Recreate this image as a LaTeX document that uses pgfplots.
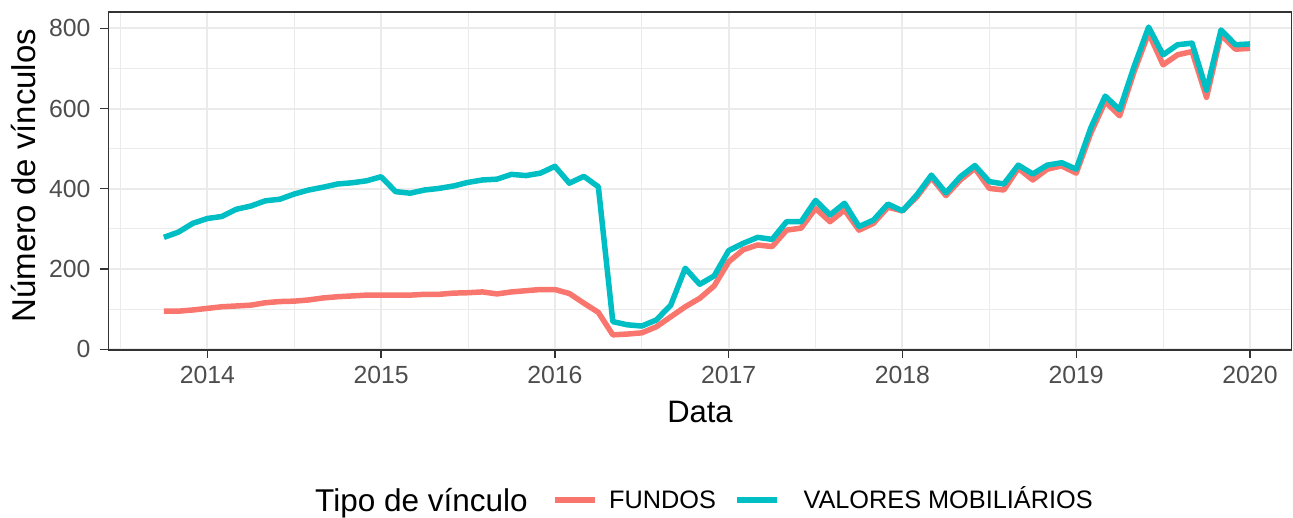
\documentclass[border=0pt]{standalone}
\usepackage{fontspec}
\setmainfont{Liberation Sans}
\usepackage{pgfplots}
\pgfplotsset{compat=1.18}
\usepackage{pgfplotstable}
\definecolor{fundos}{HTML}{F8766D}
\definecolor{valores}{HTML}{00BFC4}
\definecolor{gridc}{HTML}{EBEBEB}
\definecolor{g20}{HTML}{333333}
\definecolor{g30}{HTML}{4D4D4D}

\pgfplotstableread{
x f v
2013.7500 95 279
2013.8333 95 292
2013.9167 98 314
2014.0000 102 326
2014.0833 106 331
2014.1667 108 349
2014.2500 110 357
2014.3333 116 370
2014.4167 119 374
2014.5000 120 387
2014.5833 123 397
2014.6667 128 404
2014.7500 131 412
2014.8333 133 415
2014.9167 135 420
2015.0000 135 430
2015.0833 135 393
2015.1667 135 389
2015.2500 137 397
2015.3333 137 401
2015.4167 140 407
2015.5000 141 416
2015.5833 143 422
2015.6667 138 424
2015.7500 143 436
2015.8333 146 433
2015.9167 149 439
2016.0000 149 456
2016.0833 139 414
2016.1667 115 431
2016.2500 92 405
2016.3333 36 69
2016.4167 38 61
2016.5000 41 58
2016.5833 56 73
2016.6667 81 110
2016.7500 106 202
2016.8333 127 162
2016.9167 158 183
2017.0000 218 246
2017.0833 248 264
2017.1667 260 279
2017.2500 256 274
2017.3333 297 318
2017.4167 302 318
2017.5000 351 371
2017.5833 318 335
2017.6667 347 364
2017.7500 297 306
2017.8333 314 322
2017.9167 354 362
2018.0000 345 345
2018.0833 380 385
2018.1667 428 434
2018.2500 383 390
2018.3333 422 430
2018.4167 451 458
2018.5000 401 418
2018.5833 397 412
2018.6667 451 459
2018.7500 422 437
2018.8333 449 459
2018.9167 457 465
2019.0000 439 449
2019.0833 538 551
2019.1667 617 631
2019.2500 582 597
2019.3333 692 705
2019.4167 788 803
2019.5000 709 734
2019.5833 734 759
2019.6667 742 763
2019.7500 628 646
2019.8333 784 796
2019.9167 748 759
2020.0000 750 761
}\data

\begin{document}
\begin{tikzpicture}
\path[use as bounding box] (0,0) rectangle (1293pt,517pt);
\begin{axis}[
  at={(108.3pt,166.9pt)}, anchor=south west,
  scale only axis, width=1183.4pt, height=338.25pt,
  xmin=2013.43, xmax=2020.24, ymin=-2, ymax=841,
  xtick={2014,2015,2016,2017,2018,2019,2020},
  xticklabels={2014,2015,2016,2017,2018,2019,2020},
  ytick={0,200,400,600,800},
  yticklabels={0,200,400,600,800},
  minor xtick={2013.5,2014.5,2015.5,2016.5,2017.5,2018.5,2019.5},
  minor ytick={100,300,500,700},
  /pgf/number format/assume math mode=true,
  grid=both,
  major grid style={gridc, line width=2pt},
  minor grid style={gridc, line width=1pt},
  axis line style={g20, line width=1.4pt},
  tick style={g20, line width=1.4pt},
  major tick length=8pt, minor tick length=0pt, tick align=outside,
  xtick pos=lower, ytick pos=left,
  ticklabel style={font=\fontsize{24.8}{29}\selectfont, text=g30, inner sep=0pt},
  xticklabel style={anchor=base, yshift=-25.5pt},
  yticklabel style={anchor=east, xshift=-9.6pt},
  xlabel={Data}, ylabel={Número de vínculos},
  label style={text=black},
  xlabel style={font=\fontsize{31}{36}\selectfont, at={(axis description cs:0.5,-0.2129)}, anchor=base},
  ylabel style={font=\fontsize{33}{38}\selectfont, at={(axis description cs:-0.0617,0.516)}, anchor=base},
  legend columns=-1,
  legend image code/.code={\draw[#1, line cap=butt] (0pt,0pt) -- (40pt,0pt);},
  legend style={at={(axis description cs:0.1747,-0.4435)}, anchor=west,
    draw=none, fill=none, inner sep=0pt, column sep=0pt,
    cells={anchor=west},
    nodes={inner sep=0pt, text height=17.7pt, text depth=0pt,
      font=\fontsize{25.3}{30}\selectfont, text=black},
    /tikz/column 2/.style={column sep=25pt},
    /tikz/column 3/.style={column sep=11pt},
    /tikz/column 4/.style={column sep=18pt},
    /tikz/column 5/.style={column sep=24pt}},
]
\addlegendimage{empty legend}
\addlegendentry{\raisebox{-2.5pt}{\fontsize{31.5}{37}\selectfont Tipo de vínculo}}
\addplot[fundos, line width=5.5pt, line join=round] table[x=x, y=f] {\data};
\addlegendentry{FUNDOS}
\addplot[valores, line width=5.5pt, line join=round] table[x=x, y=v] {\data};
\addlegendentry{VALORES MOBILIÁRIOS}
\end{axis}
\end{tikzpicture}
\end{document}
